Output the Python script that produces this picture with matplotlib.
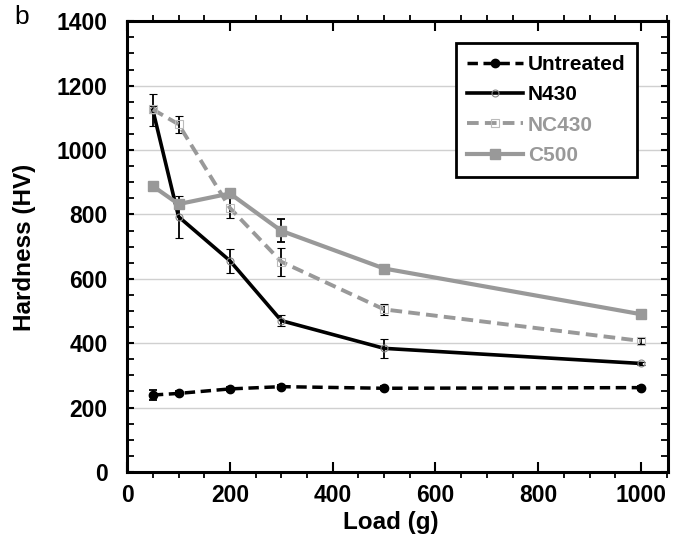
import numpy as np
import matplotlib
matplotlib.use("Agg")
from matplotlib import pyplot as plt
from matplotlib.ticker import MultipleLocator

plt.rcParams['font.family'] = ['Liberation Sans', 'DejaVu Sans']

loads = [50, 100, 200, 300, 500, 1000]

untreated = [239, 244, 258, 265, 260, 262]
untreated_err = [15, 6, 6, 6, 6, 6]
n430 = [1124, 793, 656, 470, 384, 337]
n430_err = [50, 65, 37, 18, 30, 5]
nc430 = [1126, 1080, 820, 653, 505, 407]
nc430_err = [12, 27, 32, 44, 18, 8]
c500 = [888, 832, 865, 749, 632, 490]
c500_err = [6, 8, 10, 36, 8, 8]

gray = '#999999'

fig = plt.figure(figsize=(6.8, 5.45), dpi=100)
ax = fig.add_axes([0.187, 0.134, 0.795, 0.827])

ax.yaxis.grid(True, color='#d0d0d0', linewidth=1.0)
ax.set_axisbelow(True)

eb = dict(ecolor='black', elinewidth=1.3, capsize=3, capthick=1.3)

h1 = ax.errorbar(loads, untreated, yerr=untreated_err, color='black', lw=2.5,
                 dashes=(3, 1.6), marker='o', ms=6, mfc='black', mec='black',
                 **eb)
h2 = ax.errorbar(loads, n430, yerr=n430_err, color='black', lw=2.6,
                 marker='o', ms=5, mfc='none', mec='#888888', mew=0.8, **eb)
h3 = ax.errorbar(loads, nc430, yerr=nc430_err, color=gray, lw=2.8,
                 dashes=(3, 1.6), marker='s', ms=6, mfc='none', mec='#bbbbbb',
                 mew=0.8, **eb)
h4 = ax.errorbar(loads, c500, yerr=c500_err, color=gray, lw=3.0,
                 marker='s', ms=6.5, mfc=gray, mec=gray, **eb)

ax.set_xlim(0, 1052)
ax.set_ylim(0, 1400)
ax.xaxis.set_major_locator(MultipleLocator(200))
ax.xaxis.set_minor_locator(MultipleLocator(50))
ax.yaxis.set_major_locator(MultipleLocator(200))
ax.yaxis.set_minor_locator(MultipleLocator(50))

for s in ax.spines.values():
    s.set_linewidth(2.2)

ax.tick_params(axis='x', which='major', direction='in', length=7, width=1.5,
               top=True, bottom=True, pad=9, labelsize=16.5)
ax.tick_params(axis='x', which='minor', direction='out', length=4, width=1.3,
               top=True, bottom=True)
ax.tick_params(axis='y', which='major', direction='in', length=5, width=1.5,
               left=True, right=True, pad=14, labelsize=16.5)
ax.tick_params(axis='y', which='minor', direction='in', length=5, width=1.3,
               left=True, right=True)
for lab in ax.get_xticklabels() + ax.get_yticklabels():
    lab.set_fontweight('bold')

leg = ax.legend([h1[0], h2[0], h3[0], h4[0]],
                ['Untreated', 'N430', 'NC430', 'C500'],
                loc='upper right', bbox_to_anchor=(0.943, 0.951),
                borderaxespad=0, fancybox=False, framealpha=1,
                edgecolor='black', handlelength=2.65, handletextpad=0.25,
                labelspacing=0.55, borderpad=0.55,
                prop={'weight': 'bold', 'size': 15})
leg.get_frame().set_linewidth(2.0)
for txt, c in zip(leg.get_texts(), ['black', 'black', gray, gray]):
    txt.set_color(c)

fig.text(25 / 680, 1 - 247 / 545, 'Hardness (HV)', rotation=90,
         ha='center', va='center', fontsize=17.5, fontweight='bold')
fig.text(391 / 680, 1 - 522 / 545, 'Load (g)', ha='center', va='center',
         fontsize=17.5, fontweight='bold')
fig.text(22 / 680, 1 - 17 / 545, 'b', ha='center', va='center', fontsize=19)

fig.savefig('out.png', dpi=100)
